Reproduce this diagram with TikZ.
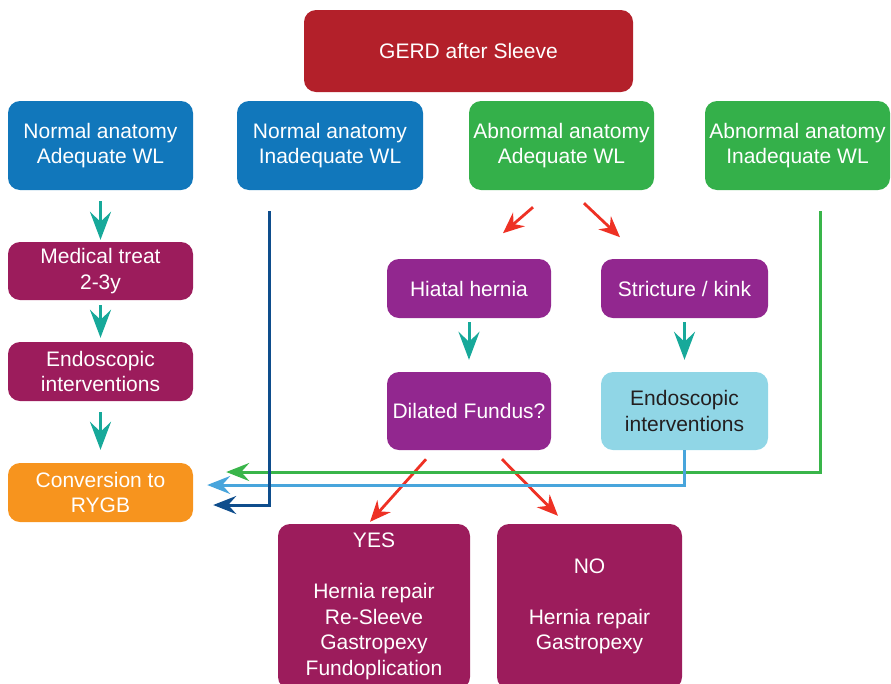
\documentclass[tikz,border=0pt]{standalone}
\usepackage{fontspec}
\setmainfont{Liberation Sans}
\usetikzlibrary{arrows.meta,calc}
\definecolor{gerdred}{HTML}{B3202A}
\definecolor{boxblue}{HTML}{1177BB}
\definecolor{boxgreen}{HTML}{34B04A}
\definecolor{boxmaroon}{HTML}{9C1C5C}
\definecolor{boxpurple}{HTML}{92278F}
\definecolor{boxorange}{HTML}{F7941E}
\definecolor{boxlight}{HTML}{90D6E6}
\definecolor{arrteal}{HTML}{17A99A}
\definecolor{arrred}{HTML}{EE3124}
\definecolor{linedark}{HTML}{0E4D8C}
\definecolor{linelight}{HTML}{48A5DC}
\definecolor{linegreen}{HTML}{39B54A}
\definecolor{textdark}{HTML}{231F20}
\tikzset{
  box/.style={rounded corners=12pt, text=white, align=center, inner sep=0pt,
    font=\fontsize{21}{25.5}\selectfont},
  tealarr/.style={draw=arrteal, line width=3pt, -{Stealth[length=28pt,width=21pt,inset=10pt]}},
  redarr/.style={draw=arrred, line width=2.8pt, -{Stealth[length=21pt,width=18pt,inset=7pt]}},
  backline/.style={line width=3pt, -{Stealth[length=23pt,width=18pt,inset=8pt]}},
}
\begin{document}
\begin{tikzpicture}[x=1pt,y=-1pt]
\useasboundingbox (0,0) rectangle (891,683);
\clip (0,0) rectangle (891,683);
\node[box, fill=gerdred, minimum width=329pt, minimum height=82pt] (gerd) at (468.5,51) {GERD after Sleeve};
\node[box, fill=boxblue, minimum width=185pt, minimum height=89pt] (naa) at (100.5,145.5) {Normal anatomy\\Adequate WL};
\node[box, fill=boxblue, minimum width=186pt, minimum height=89pt] (nai) at (330,145.5) {Normal anatomy\\Inadequate WL};
\node[box, fill=boxgreen, minimum width=185pt, minimum height=89pt] (aaa) at (561.5,145.5) {Abnormal anatomy\\Adequate WL};
\node[box, fill=boxgreen, minimum width=185pt, minimum height=89pt] (aai) at (797.5,145.5) {Abnormal anatomy\\Inadequate WL};
\node[box, fill=boxmaroon, minimum width=185pt, minimum height=58pt] (med) at (100.5,271) {Medical treat\\2-3y};
\node[box, fill=boxmaroon, minimum width=185pt, minimum height=59pt] (endol) at (100.5,371.5) {Endoscopic\\interventions};
\node[box, fill=boxorange, minimum width=185pt, minimum height=59pt] (conv) at (100.5,492.5) {Conversion to\\RYGB};
\node[box, fill=boxpurple, minimum width=164pt, minimum height=59pt] (hia) at (469,288.5) {Hiatal hernia};
\node[box, fill=boxpurple, minimum width=167pt, minimum height=59pt] (str) at (684.5,288.5) {Stricture / kink};
\node[box, fill=boxpurple, minimum width=164pt, minimum height=78pt] (dil) at (469,411) {Dilated Fundus?};
\node[box, fill=boxlight, text=textdark, minimum width=167pt, minimum height=78pt] (endor) at (684.5,411) {Endoscopic\\interventions};
\node[box, fill=boxmaroon, minimum width=192pt, minimum height=165pt] (yes) at (374,606.5) {YES\\[25.5pt]Hernia repair\\Re-Sleeve\\Gastropexy\\Fundoplication};
\node[box, fill=boxmaroon, minimum width=185pt, minimum height=165pt] (no) at (589.5,606.5) {NO\\[25.5pt]Hernia repair\\Gastropexy};
% teal arrows
\draw[tealarr] ($(naa.south)+(0,11)$) -- ($(med.north)+(0,-2)$);
\draw[tealarr] ($(med.south)+(0,5)$) -- ($(endol.north)+(0,-4)$);
\draw[tealarr] ($(endol.south)+(0,11)$) -- ($(conv.north)+(0,-13)$);
\draw[tealarr] ($(hia.south)+(0,4)$) -- ($(dil.north)+(0,-12)$);
\draw[tealarr] ($(str.south)+(0,4)$) -- ($(endor.north)+(0,-12)$);
% red arrows
\draw[redarr] ($(aaa.south)+(-28.5,17)$) -- ($(aaa.south)+(-58.5,43)$);
\draw[redarr] ($(aaa.south)+(22.5,13)$) -- ($(aaa.south)+(58.5,47)$);
\draw[redarr] ($(dil.south)+(-43,9)$) -- ($(yes.north)+(-4,-2)$);
\draw[redarr] ($(dil.south)+(33,9)$) -- ($(no.north)+(-31.5,-8)$);
% return lines
\draw[backline, draw=linegreen] ($(aai.south)+(22.5,21)$) |- ($(conv.east)+(33,-20.5)$);
\draw[backline, draw=linelight] (endor.south) |- ($(conv.east)+(14,-7.5)$);
\draw[backline, draw=linedark] ($(nai.south)+(-61,21)$) |- ($(conv.east)+(20,12.5)$);
\end{tikzpicture}
\end{document}
